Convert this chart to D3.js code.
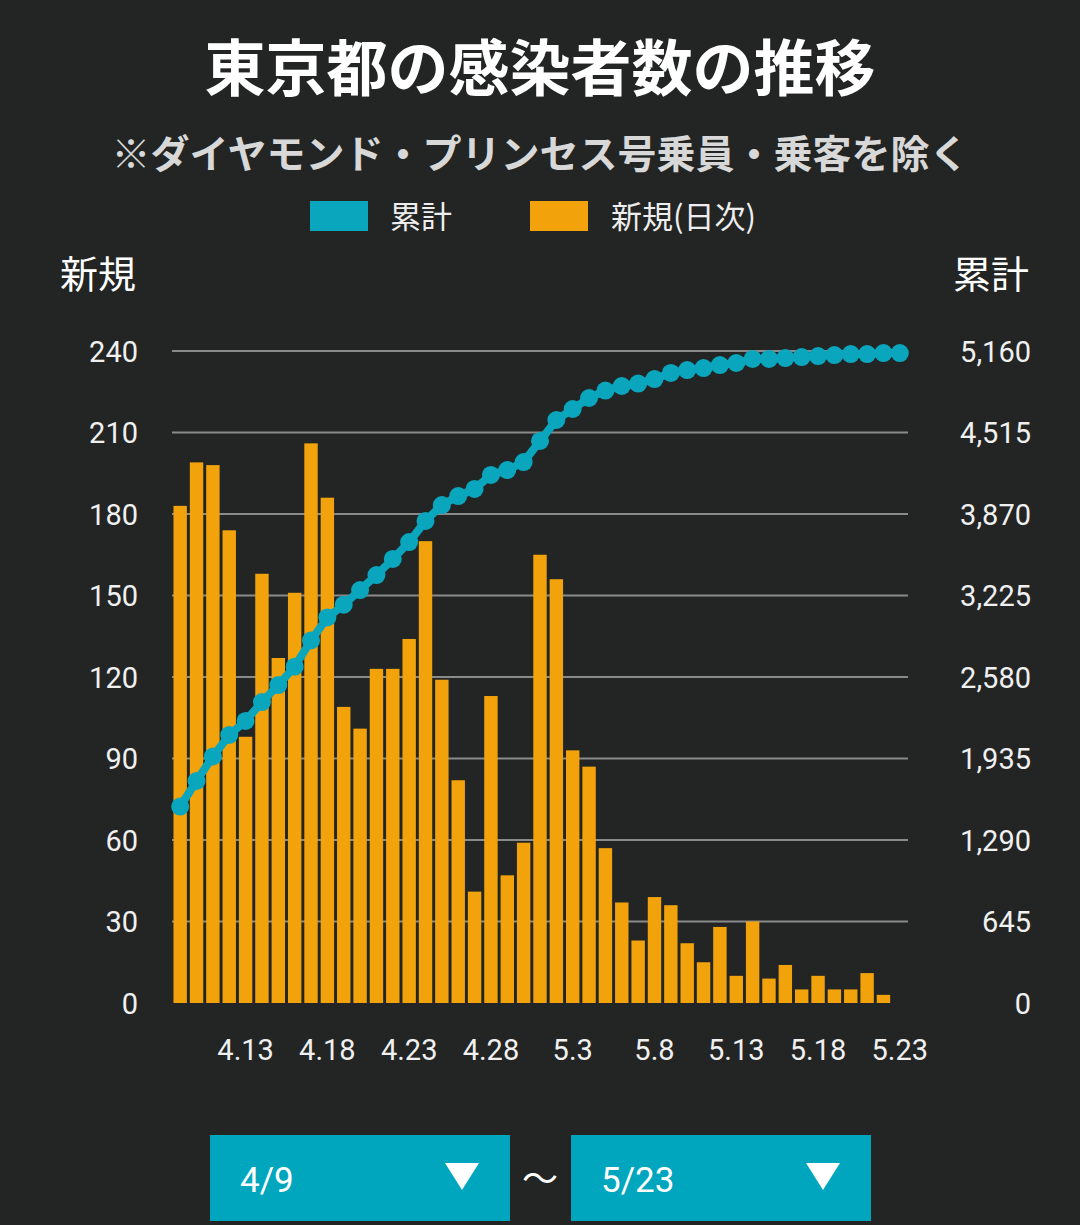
<!DOCTYPE html>
<html><head><meta charset="utf-8">
<script src="https://cdn.jsdelivr.net/npm/d3@7"></script>
<style>body{margin:0;background:#222524;}svg{display:block;font-family:"Noto Sans CJK JP",Roboto,sans-serif;}</style>
</head><body><svg id="c" width="1080" height="1225"></svg>
<script>
var dates = ["4.9","4.10","4.11","4.12","4.13","4.14","4.15","4.16","4.17","4.18","4.19","4.20","4.21","4.22","4.23","4.24","4.25","4.26","4.27","4.28","4.29","4.30","5.1","5.2","5.3","5.4","5.5","5.6","5.7","5.8","5.9","5.10","5.11","5.12","5.13","5.14","5.15","5.16","5.17","5.18","5.19","5.20","5.21","5.22","5.23"];
var daily = [183,199,198,174,98,158,127,151,206,186,109,101,123,123,134,170,119,82,41,113,47,59,165,156,93,87,57,37,23,39,36,22,15,28,10,30,9,14,5,10,5,5,11,3,0];
var total = [1555,1757,1951,2121,2232,2382,2516,2662,2869,3051,3152,3268,3387,3514,3648,3815,3941,4012,4068,4179,4218,4281,4448,4614,4701,4788,4847,4883,4902,4938,4986,5009,5025,5049,5065,5097,5097,5104,5112,5120,5128,5136,5136,5144,5144];
var leftTicks = [0,30,60,90,120,150,180,210,240];
var rightTicks = [0,645,1290,1935,2580,3225,3870,4515,5160];
var shownDates = ["4.13","4.18","4.23","4.28","5.3","5.8","5.13","5.18","5.23"];

var svg = d3.select("#c");
var teal = "#0aa6be", orange = "#f2a20a";

var x = d3.scaleBand().domain(dates).range([172, 908]).paddingInner(0.18).paddingOuter(0.09);
var yL = d3.scaleLinear().domain([0, 240]).range([1003, 351]);
var yR = d3.scaleLinear().domain([0, 5160]).range([1003, 351]);
var cx = function(d) { return x(d) + x.bandwidth() / 2; };

// titles
svg.append("text").attr("x", 540).attr("y", 91).attr("text-anchor", "middle")
    .attr("fill", "#fff").attr("font-size", 61).attr("font-weight", "bold").text("東京都の感染者数の推移");
svg.append("text").attr("x", 540).attr("y", 168).attr("text-anchor", "middle")
    .attr("fill", "#d8d8d8").attr("font-size", 39).attr("font-weight", "bold").text("※ダイヤモンド・プリンセス号乗員・乗客を除く");

// legend
svg.append("rect").attr("x", 310).attr("y", 201).attr("width", 58).attr("height", 30).attr("fill", teal);
svg.append("text").attr("x", 390).attr("y", 228).attr("fill", "#eee").attr("font-size", 31).text("累計");
svg.append("rect").attr("x", 530).attr("y", 201).attr("width", 58).attr("height", 30).attr("fill", orange);
svg.append("text").attr("x", 611).attr("y", 228).attr("fill", "#eee").attr("font-size", 31).text("新規(日次)");

svg.append("text").attr("x", 98).attr("y", 288).attr("text-anchor", "middle").attr("fill", "#fff").attr("font-size", 38).text("新規");
svg.append("text").attr("x", 991).attr("y", 288).attr("text-anchor", "middle").attr("fill", "#fff").attr("font-size", 38).text("累計");

// grid
svg.append("g").selectAll("line").data(leftTicks.slice(1)).join("line")
    .attr("x1", 172).attr("x2", 908).attr("y1", yL).attr("y2", yL)
    .attr("stroke", "#8a8a8a").attr("stroke-width", 2);

// axes
var gL = svg.append("g").attr("transform", "translate(138,0)")
    .call(d3.axisLeft(yL).tickValues(leftTicks).tickSize(0).tickPadding(0));
var gR = svg.append("g").attr("transform", "translate(1031,0)")
    .call(d3.axisLeft(yR).tickValues(rightTicks).tickSize(0).tickPadding(0).tickFormat(d3.format(",")));
var gX = svg.append("g").attr("transform", "translate(0,1038)")
    .call(d3.axisBottom(x).tickValues(shownDates).tickSize(0).tickPadding(0));
[gL, gR, gX].forEach(function(g) {
    g.select(".domain").remove();
    g.selectAll("text").attr("fill", "#f0f0f0").attr("font-size", 29).attr("font-family", "Roboto,sans-serif");
});
gL.selectAll("text").attr("dy", "0.35em");
gR.selectAll("text").attr("dy", "0.35em");
gX.selectAll("text").attr("dy", "0.75em");

// bars
svg.append("g").selectAll("rect").data(daily).join("rect")
    .attr("x", function(d, i) { return x(dates[i]); })
    .attr("width", x.bandwidth())
    .attr("y", function(d) { return yL(d); })
    .attr("height", function(d) { return 1003 - yL(d); })
    .attr("fill", orange);

// cumulative line
var line = d3.line().x(function(d, i) { return cx(dates[i]); }).y(function(d) { return yR(d); });
svg.append("path").datum(total).attr("d", line).attr("fill", "none").attr("stroke", teal).attr("stroke-width", 8);
svg.append("g").selectAll("circle").data(total).join("circle")
    .attr("cx", function(d, i) { return cx(dates[i]); }).attr("cy", yR).attr("r", 9).attr("fill", teal);

// date selectors
[{x: 210, t: "4/9"}, {x: 571, t: "5/23"}].forEach(function(b) {
    svg.append("rect").attr("x", b.x).attr("y", 1135).attr("width", 300).attr("height", 86).attr("fill", "#00a6bd");
    svg.append("text").attr("x", b.x + 30).attr("y", 1192).attr("fill", "#fff").attr("font-size", 35)
        .attr("font-family", "Roboto,sans-serif").text(b.t);
    svg.append("path").attr("d", "M" + (b.x + 235) + ",1163 L" + (b.x + 269) + ",1163 L" + (b.x + 252) + ",1190 Z").attr("fill", "#fff");
});
svg.append("text").attr("x", 540).attr("y", 1192).attr("text-anchor", "middle").attr("fill", "#fff").attr("font-size", 36).text("〜");
</script></body></html>
